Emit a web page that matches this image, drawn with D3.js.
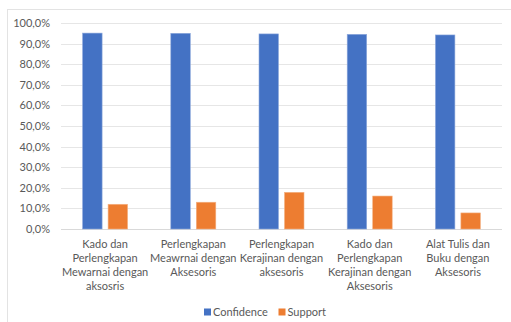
<!DOCTYPE html>
<html>
<head>
<meta charset="utf-8">
<script src="https://cdn.jsdelivr.net/npm/d3@7"></script>
<style>
  html, body { margin: 0; padding: 0; background: #fff; }
  svg { display: block; }
  text { font-family: Lato, "Open Sans", sans-serif; fill: #595959; }
</style>
</head>
<body>
<script>
// Association-rule metrics per item pair
const categories = [
  ["Kado dan", "Perlengkapan", "Mewarnai dengan", "aksosris"],
  ["Perlengkapan", "Meawrnai dengan", "Aksesoris"],
  ["Perlengkapan", "Kerajinan dengan", "aksesoris"],
  ["Kado dan", "Perlengkapan", "Kerajinan dengan", "Aksesoris"],
  ["Alat Tulis dan", "Buku dengan", "Aksesoris"]
];
const confidence = [0.951, 0.950, 0.947, 0.945, 0.942];
const support = [0.120, 0.130, 0.178, 0.160, 0.078];
const yTicks = [0, 0.1, 0.2, 0.3, 0.4, 0.5, 0.6, 0.7, 0.8, 0.9, 1.0];
const seriesNames = ["Confidence", "Support"];
const colors = ["#4472C4", "#ED7D31"];

const W = 511, H = 322;
const svg = d3.select("body").append("svg").attr("width", W).attr("height", H);

// chart frame
svg.append("rect")
  .attr("x", 7.5).attr("y", 9.5)
  .attr("width", W + 10).attr("height", H + 10)
  .attr("fill", "none").attr("stroke", "#e3e3e3").attr("stroke-width", 1);

const plot = { left: 61, right: 502, top: 23, bottom: 229 };

const x = d3.scaleBand()
  .domain(d3.range(categories.length))
  .range([plot.left, plot.right]);

const y = d3.scaleLinear().domain([0, 1]).range([plot.bottom, plot.top]);

const fmt = v => d3.format(".1f")(v * 100).replace(".", ",") + "%";

// gridlines
svg.append("g")
  .selectAll("line")
  .data(yTicks)
  .join("line")
  .attr("x1", plot.left).attr("x2", plot.right)
  .attr("y1", d => Math.round(y(d)) + 0.5).attr("y2", d => Math.round(y(d)) + 0.5)
  .attr("stroke", d => d === 0 ? "#d9d9d9" : "#e6e6e6")
  .attr("stroke-width", 1);

// y axis labels
const yAxis = d3.axisLeft(y).tickValues(yTicks).tickFormat(fmt).tickSize(0).tickPadding(11);
const yg = svg.append("g").attr("transform", `translate(${plot.left},0)`).call(yAxis);
yg.select(".domain").remove();
yg.selectAll("text").style("font-size", "11px").style("font-family", "Lato, sans-serif").attr("fill", "#595959");

// bars
const barW = 19.5, gap = 6;
const groups = svg.append("g")
  .selectAll("g")
  .data(categories.map((c, i) => i))
  .join("g")
  .attr("transform", i => `translate(${x(i) + x.bandwidth() / 2},0)`);

groups.append("rect")
  .attr("x", -gap / 2 - barW)
  .attr("width", barW)
  .attr("y", i => y(confidence[i]))
  .attr("height", i => y(0) - y(confidence[i]))
  .attr("fill", colors[0])
  .attr("stroke", "#8faadc").attr("stroke-width", 0.6);

groups.append("rect")
  .attr("x", gap / 2)
  .attr("width", barW)
  .attr("y", i => y(support[i]))
  .attr("height", i => y(0) - y(support[i]))
  .attr("fill", colors[1])
  .attr("stroke", "#f4b183").attr("stroke-width", 0.6);

// category labels
groups.append("text")
  .attr("text-anchor", "middle")
  .style("font-size", "11px")
  .selectAll("tspan")
  .data(i => categories[i])
  .join("tspan")
  .attr("x", 0)
  .attr("y", (d, j) => 248 + j * 14)
  .text(d => d);

// legend
const legend = svg.append("g");
const legendX = [204, 278.5];
seriesNames.forEach((name, i) => {
  legend.append("rect")
    .attr("x", legendX[i]).attr("y", 308.5)
    .attr("width", 7).attr("height", 7)
    .attr("fill", colors[i]);
  legend.append("text")
    .attr("x", legendX[i] + 9).attr("y", 316)
    .style("font-size", "11px")
    .text(name);
});
</script>
</body>
</html>
